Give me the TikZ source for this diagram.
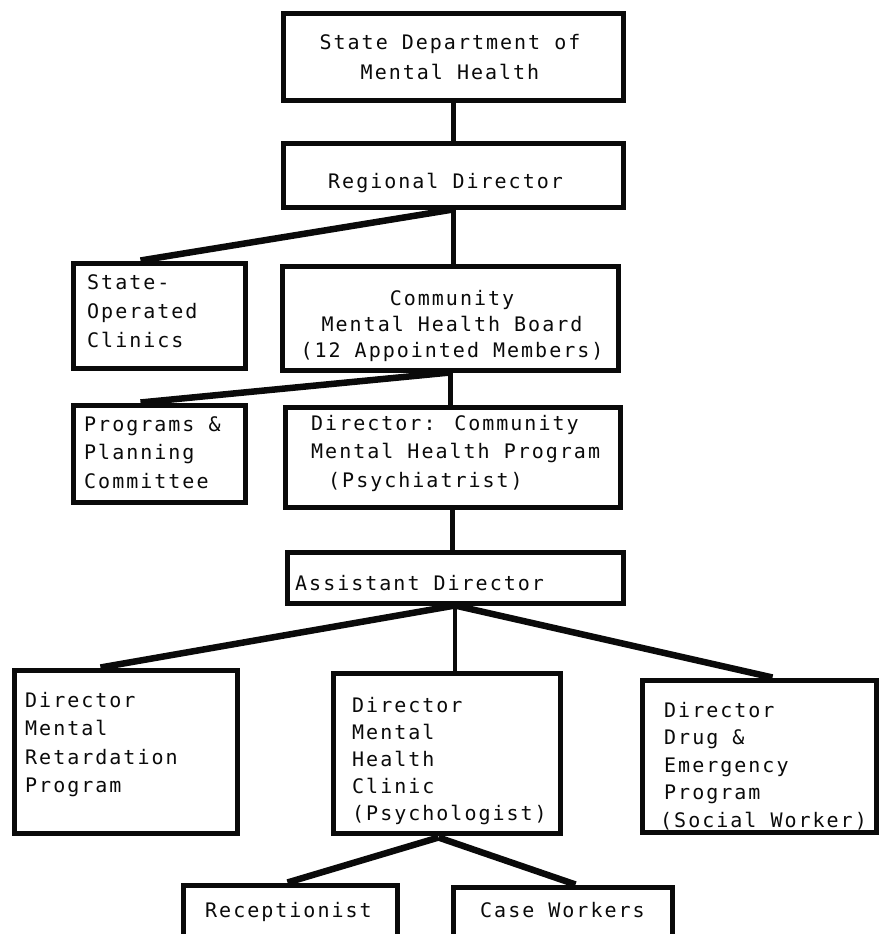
\documentclass[tikz,border=0pt]{standalone}
\usepackage{fontspec}
\usetikzlibrary{fit}
\newfontfamily\typer[LetterSpace=10]{DejaVu Sans Mono}
\definecolor{ink}{HTML}{0A0A0A}
\begin{document}
\begin{tikzpicture}[x=1pt,y=-1pt,
  box/.style={draw=ink, line width=5pt, inner sep=0pt},
  txt/.style={font=\typer\fontsize{20}{28.5}\selectfont, text=ink, inner sep=0pt, align=left, anchor=north west},
  line/.style={txt, anchor=base west},
  link/.style={draw=ink, line width=6.5pt},
  stem/.style={draw=ink, line width=5pt}]
\useasboundingbox (0,0) rectangle (879,934);
\clip (0,0) rectangle (879,934);
\fill[white] (0,0) rectangle (879,934);

% boxes, by their corners
\node[box, fit={(283,14) (623,100)}] (sdmh) {};
\node[box, fit={(283,143) (623,207)}] (regional) {};
\node[box, fit={(73,263) (245,368)}] (stateop) {};
\node[box, fit={(282,266) (618,370)}] (board) {};
\node[box, fit={(73,405) (245,502)}] (programs) {};
\node[box, fit={(285,407) (620,507)}] (dcmhp) {};
\node[box, fit={(287,552) (623,603)}] (asst) {};
\node[box, fit={(14,670) (237,833)}] (mrp) {};
\node[box, fit={(333,673) (560,833)}] (mhc) {};
\node[box, fit={(642,680) (876,832)}] (dep) {};
\node[box, fit={(183,885) (397,945)}] (recep) {};
\node[box, fit={(453,887) (672,945)}] (case) {};

% box texts
\node[txt, align=center, anchor=north, font=\typer\fontsize{20}{30}\selectfont] (sdmh-t) at (450,34) {State Department of\\Mental Health};
\node[line] (regional-t) at (328,188) {Regional Director};
\node[txt, font=\typer\fontsize{20}{29}\selectfont] (stateop-t) at (87,274) {State-\\Operated\\Clinics};
\node[txt, align=center, anchor=north, font=\typer\fontsize{20}{26}\selectfont] (board-t) at (452,290) {Community\\Mental Health Board\\(12 Appointed Members)};
\node[txt] (programs-t) at (84,416) {Programs \&\\Planning\\Committee};
\node[txt] (dcmhp-t) at (311,415) {Director: Community\\Mental Health Program\\\hspace*{17pt}(Psychiatrist)};
\node[line] (asst-t) at (295,590) {Assistant Director};
\node[txt] (mrp-t) at (25,692) {Director\\Mental\\Retardation\\Program};
\node[txt, font=\typer\fontsize{20}{27}\selectfont] (mhc-t) at (352,697) {Director\\Mental\\Health\\Clinic\\(Psychologist)};
\node[txt, font=\typer\fontsize{20}{27.5}\selectfont] (dep-t) at (664,702) {Director\\Drug \&\\Emergency\\Program\\\hspace*{-4pt}(Social Worker)};
\node[line] (recep-t) at (205,917) {Receptionist};
\node[line] (case-t) at (480,917) {Case Workers};

% connectors
\draw[stem] (sdmh.south) -- (regional.north);
\draw[stem] (regional.south) -- (regional.south |- board.north);
\draw[link] (regional.south) -- ([xshift=70pt]stateop.north west);
\draw[stem] (board.south) -- (board.south |- dcmhp.north);
\draw[link] (board.south) -- ([xshift=70pt]programs.north west);
\draw[stem] (dcmhp.south) -- (dcmhp.south |- asst.north);
\draw[link] (asst.south) -- ([xshift=89pt]mrp.north west);
\draw[draw=ink, line width=4pt] (asst.south) -- (asst.south |- mhc.north);
\draw[link] (asst.south) -- ([xshift=133pt]dep.north west);
\coordinate (fork) at ([xshift=-8pt,yshift=-2pt]mhc.south);
\draw[link] (fork) -- ([xshift=107pt]recep.north west);
\draw[link] (fork) -- ([xshift=125pt]case.north west);
\end{tikzpicture}
\end{document}
